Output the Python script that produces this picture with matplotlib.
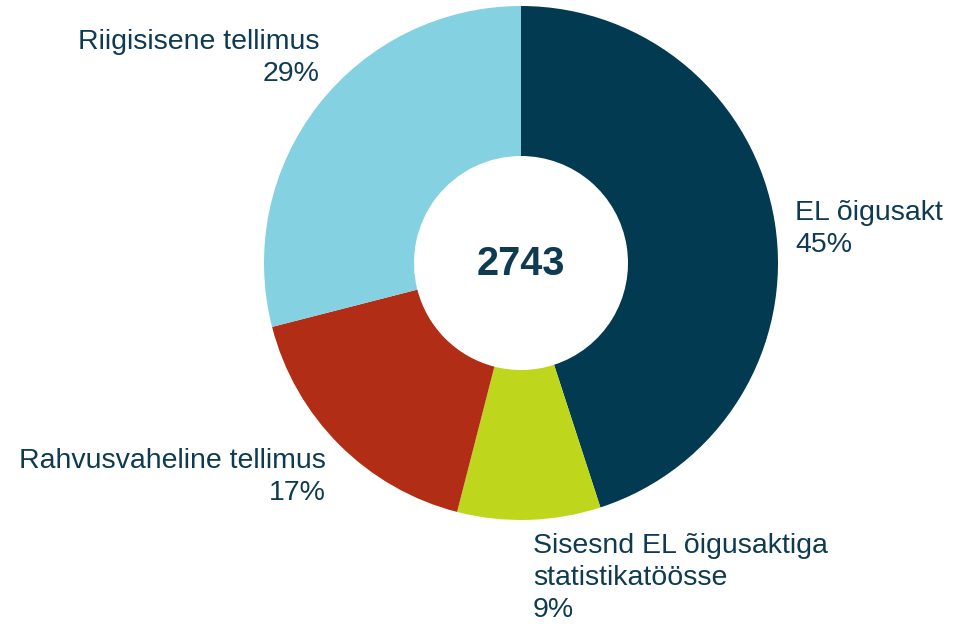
import matplotlib
matplotlib.use("Agg")
import matplotlib.pyplot as plt

plt.rcParams['font.family'] = ['Liberation Sans', 'DejaVu Sans']

categories = ["EL õigusakt", "Sisesnd EL õigusaktiga\nstatistikatöösse",
              "Rahvusvaheline tellimus", "Riigisisene tellimus"]
shares = [45, 9, 17, 29]
total = 2743
colors = ["#023A52", "#BED71C", "#B22D15", "#84D1E1"]
text_color = "#0E3B52"

W, H = 956, 624
cx, cy, R, r_in = 521, 263, 257, 107

fig = plt.figure(figsize=(W / 100, H / 100), dpi=100)
ax = fig.add_axes([0, 0, 1, 1])
ax.pie(shares, colors=colors, startangle=90, counterclock=False,
       radius=1.0, wedgeprops=dict(width=1 - r_in / R, linewidth=0))
ax.set_xlim(-cx / R, (W - cx) / R)
ax.set_ylim(-(H - cy) / R, cy / R)
ax.set_aspect('equal')
ax.axis('off')

ax.text(0, -0.005, f"{total}", ha='center', va='center', fontsize=28.5,
        fontweight='bold', color=text_color)

# label positions in pixel space (x, y_center, ha)
label_pos = [(795, 229, 'left'), (533, 578, 'left'),
             (326, 477, 'right'), (320, 58, 'right')]
for cat, s, (px, py, ha) in zip(categories, shares, label_pos):
    fig.text(px / W, 1 - py / H, f"{cat}\n{s}%", ha=ha, va='center',
             multialignment=ha, fontsize=20.5, color=text_color, linespacing=1.28)

fig.savefig("out.png", dpi=100, facecolor='white')
